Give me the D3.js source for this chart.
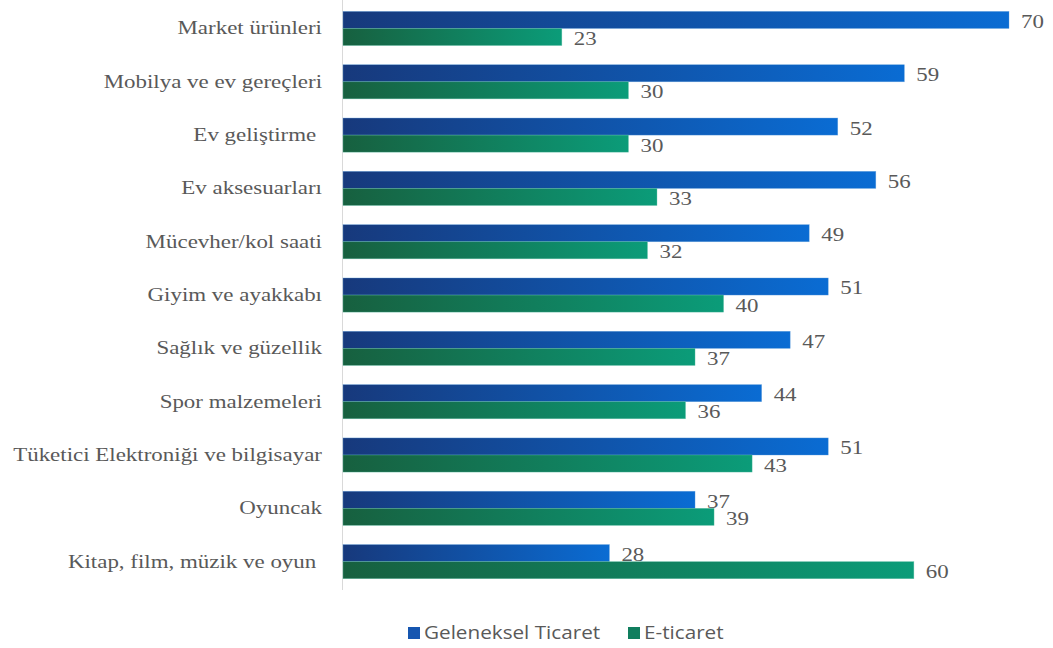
<!DOCTYPE html>
<html>
<head>
<meta charset="utf-8">
<script src="https://cdn.jsdelivr.net/npm/d3@7"></script>
<style>
  html, body { margin: 0; padding: 0; background: #fff; }
  svg { display: block; }
  text { white-space: pre; }
  .serif { font-family: "Liberation Serif", "Times New Roman", Times, serif !important; }
  .sans { font-family: "Open Sans", "Liberation Sans", Arial, sans-serif !important; }
</style>
</head>
<body>
<svg id="chart" width="1053" height="648" xml:space="preserve"></svg>
<script>
// Product categories, top to bottom
const categories = [
  "Market ürünleri",
  "Mobilya ve ev gereçleri",
  "Ev geliştirme ",
  "Ev aksesuarları",
  "Mücevher/kol saati",
  "Giyim ve ayakkabı",
  "Sağlık ve güzellik",
  "Spor malzemeleri",
  "Tüketici Elektroniği ve bilgisayar",
  "Oyuncak",
  "Kitap, film, müzik ve oyun "
];
const seriesNames = ["Geleneksel Ticaret", "E-ticaret"];
const geleneksel = [70, 59, 52, 56, 49, 51, 47, 44, 51, 37, 28];
const eticaret   = [23, 30, 30, 33, 32, 40, 37, 36, 43, 39, 60];

const svg = d3.select("#chart");
const left = 343;
const labelSize = 18.5;
const stretch = 1.24;   // text is set wide, as in the printed report

const y = d3.scaleBand()
  .domain(categories)
  .range([1.8, 588.3])
  .paddingInner(0.36)
  .paddingOuter(0.18);

const x = d3.scaleLinear()
  .domain([0, 70])
  .range([left, 1009]);

const sub = d3.scaleBand()
  .domain(seriesNames)
  .range([0, y.bandwidth()]);

// Per-bar horizontal gradients
const defs = svg.append("defs");
const grads = [
  { id: "gBlue", from: "#17397c", to: "#0a6cd3" },
  { id: "gGreen", from: "#17603f", to: "#0b9c79" }
];
grads.forEach(g => {
  const lg = defs.append("linearGradient").attr("id", g.id)
    .attr("x1", "0").attr("y1", "0").attr("x2", "1").attr("y2", "0");
  lg.append("stop").attr("offset", "0").attr("stop-color", g.from);
  lg.append("stop").attr("offset", "1").attr("stop-color", g.to);
});
const fills = ["url(#gBlue)", "url(#gGreen)"];
const strokes = ["#5f9fdc", "#5fbfa6"];

// Vertical axis line
svg.append("line")
  .attr("x1", left - 0.5).attr("x2", left - 0.5)
  .attr("y1", 0).attr("y2", 590)
  .attr("stroke", "#d9d9d9").attr("stroke-width", 1);

// Category labels
const yAxis = d3.axisLeft(y).tickSize(0).tickPadding(0);
const ga = svg.append("g").attr("transform", `translate(${left - 21},0)`).call(yAxis);
ga.attr("font-family", null).attr("font-size", null);
ga.select(".domain").remove();
ga.selectAll(".tick text")
  .attr("class", "serif")
  .attr("xml:space", "preserve")
  .attr("x", 0)
  .attr("font-size", labelSize)
  .attr("fill", "#595959")
  .attr("transform", `scale(${stretch},1)`);

const data = [geleneksel, eticaret];
const rows = categories.map((c, i) => ({ c, vals: data.map((s, k) => ({ k, v: s[i] })) }));

const g = svg.selectAll("g.row").data(rows).join("g")
  .attr("class", "row")
  .attr("transform", d => `translate(0,${y(d.c)})`);

g.selectAll("rect").data(d => d.vals).join("rect")
  .attr("x", x(0))
  .attr("y", d => sub(seriesNames[d.k]))
  .attr("width", d => x(d.v) - x(0))
  .attr("height", sub.bandwidth())
  .attr("fill", d => fills[d.k])
  .attr("stroke", d => strokes[d.k])
  .attr("stroke-width", 0.6)
  .attr("stroke-opacity", 0.6);

g.selectAll("text.val").data(d => d.vals).join("text")
  .attr("class", "val serif")
  .attr("transform", d => `translate(${x(d.v) + 12},${sub(seriesNames[d.k]) + sub.bandwidth() / 2 + 1.5}) scale(${stretch},1)`)
  .attr("dy", "0.35em")
  .attr("font-size", labelSize)
  .attr("fill", "#595959")
  .text(d => d.v);

// Legend
const legend = svg.append("g").attr("transform", "translate(408,633)");
const items = [
  { name: seriesNames[0], x: 0, color: "#1656b0" },
  { name: seriesNames[1], x: 220, color: "#107e5e" }
];
items.forEach(it => {
  legend.append("rect").attr("x", it.x).attr("y", -6).attr("width", 12).attr("height", 12)
    .attr("fill", it.color);
  legend.append("text").attr("class", "sans")
    .attr("transform", `translate(${it.x + 16},0) scale(1.15,1)`)
    .attr("dy", "0.35em")
    .attr("font-size", 18)
    .attr("fill", "#595959")
    .text(it.name);
});
</script>
</body>
</html>
